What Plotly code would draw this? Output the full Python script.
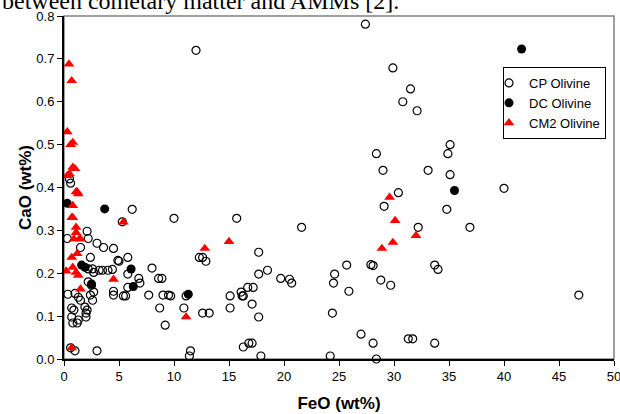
import plotly.graph_objects as go

# ---- data (FeO wt%, CaO wt%) ----
cp_feo = [27.4, 12.0, 29.9, 31.5, 30.8, 32.1, 35.1, 34.9, 28.4, 29.0, 33.1, 35.1, 40.0, 30.4, 29.1, 34.8, 32.2, 36.9,
          25.7, 27.9, 28.1, 33.7, 34.0, 24.6, 24.5, 25.9, 28.8, 29.7, 24.4, 27.0, 28.1, 31.3, 31.7, 33.7, 46.8, 28.4,
          10.0, 15.7, 21.6, 12.3, 12.6, 12.9, 17.7, 18.5, 17.7, 19.7, 20.5, 20.7, 9.7, 11.1, 15.1, 16.1, 16.7, 17.2,
          16.3, 16.2, 17.1, 10.9, 12.6, 13.2, 15.1, 17.7, 11.5, 11.4, 16.3, 16.8, 17.1, 17.9, 24.2,
          6.2, 5.3, 4.5, 5.0, 5.8, 4.4, 5.8, 6.8, 6.9, 8.0, 8.6, 8.9, 5.8, 4.5, 4.5, 5.4, 5.6, 7.7, 9.0, 9.5, 8.7, 9.2,
          3.2, 3.5, 4.0, 4.9,
          0.5, 0.6, 2.1, 0.3, 2.2, 1.5, 3.0, 3.6, 2.4, 2.2, 2.6, 2.7, 2.2, 2.5, 2.7, 2.4, 2.6, 0.35, 1.0, 1.3, 1.5,
          0.7, 0.9, 1.9, 2.1, 2.0, 2.0, 0.7, 1.3, 1.2, 0.8, 1.0, 0.6, 3.0]
cp_cao = [0.781, 0.72, 0.679, 0.630, 0.600, 0.579, 0.500, 0.479, 0.479, 0.44, 0.44, 0.430, 0.398, 0.388, 0.356, 0.349, 0.307, 0.307,
          0.219, 0.22, 0.218, 0.219, 0.209, 0.198, 0.177, 0.158, 0.184, 0.172, 0.107, 0.058, 0.037, 0.047, 0.047, 0.037, 0.149, 0.0,
          0.328, 0.328, 0.307, 0.237, 0.237, 0.228, 0.249, 0.207, 0.198, 0.188, 0.186, 0.177, 0.147, 0.147, 0.147, 0.156, 0.167, 0.167,
          0.147, 0.147, 0.128, 0.119, 0.107, 0.107, 0.119, 0.098, 0.019, 0.007, 0.028, 0.037, 0.037, 0.007, 0.007,
          0.349, 0.32, 0.258, 0.228, 0.237, 0.209, 0.198, 0.188, 0.177, 0.212, 0.188, 0.188, 0.167, 0.158, 0.149, 0.147, 0.147, 0.149, 0.149, 0.149, 0.119, 0.079,
          0.207, 0.207, 0.207, 0.23,
          0.42, 0.41, 0.298, 0.281, 0.281, 0.26, 0.27, 0.26, 0.237, 0.21, 0.21, 0.202, 0.18, 0.172, 0.156, 0.149, 0.137, 0.151, 0.153, 0.144, 0.137,
          0.119, 0.114, 0.121, 0.114, 0.107, 0.098, 0.098, 0.091, 0.084, 0.084, 0.019, 0.026, 0.019]

dc_feo = [41.6, 35.5, 0.3, 3.7, 1.6, 1.9, 2.5, 6.1, 6.3, 11.3]
dc_cao = [0.723, 0.393, 0.363, 0.35, 0.219, 0.214, 0.175, 0.21, 0.169, 0.151]

cm2_feo = [0.45, 0.7, 0.3, 0.8, 0.6, 0.8, 1.0, 0.5, 0.3, 1.2, 1.1, 1.3, 0.8, 0.7, 0.8, 1.1, 1.1, 0.9, 1.4, 1.5,
           0.7, 1.2, 0.2, 0.8, 1.1, 1.3, 1.5, 0.7, 4.5, 5.4, 11.1, 12.8, 15.0, 29.6, 30.1, 29.9, 28.9, 32.0]
cm2_cao = [0.688, 0.649, 0.53, 0.505, 0.5, 0.447, 0.444, 0.432, 0.428, 0.39, 0.39, 0.385, 0.358, 0.33, 0.33, 0.307, 0.295, 0.28, 0.28, 0.28,
           0.237, 0.246, 0.205, 0.214, 0.202, 0.195, 0.163, 0.026, 0.186, 0.319, 0.098, 0.258, 0.274, 0.377, 0.323, 0.272, 0.258, 0.288]

x_ticks = [0, 5, 10, 15, 20, 25, 30, 35, 40, 45, 50]
y_ticks = [0.0, 0.1, 0.2, 0.3, 0.4, 0.5, 0.6, 0.7, 0.8]

SANS = "Liberation Sans, Arial, sans-serif"

fig = go.Figure()
fig.add_trace(go.Scatter(x=cp_feo, y=cp_cao, mode="markers", name="CP Olivine", cliponaxis=False,
                         marker=dict(symbol="circle-open", size=8, color="black", line=dict(width=1.2, color="black"))))
fig.add_trace(go.Scatter(x=dc_feo, y=dc_cao, mode="markers", name="DC Olivine", cliponaxis=False,
                         marker=dict(symbol="circle", size=9, color="black")))
fig.add_trace(go.Scatter(x=cm2_feo, y=cm2_cao, mode="markers", name="CM2 Olivine", cliponaxis=False,
                         marker=dict(symbol="triangle-up", size=9.5, color="#ff0000", line=dict(width=0))))

# plot-area frame (grey top/right), below the black axis lines
fig.add_shape(type="rect", xref="paper", yref="paper", x0=0, y0=0, x1=1, y1=1,
              line=dict(color="#808080", width=1.5), layer="below")

fig.add_annotation(text="between cometary matter and AMMs [2].", xref="paper", yref="paper",
                   x=-64 / 550, y=1.0, xanchor="left", yanchor="bottom", showarrow=False,
                   font=dict(family="Liberation Serif, Times New Roman, serif", size=24, color="black"))

fig.update_layout(
    width=620, height=414,
    margin=dict(l=64, r=6, t=16, b=55, autoexpand=False),
    paper_bgcolor="white", plot_bgcolor="white",
    font=dict(family=SANS, size=13, color="black"),
    showlegend=True,
    legend=dict(x=(606 - 64) / 550, y=(359 - 67) / 343, xanchor="right", yanchor="top",
                bordercolor="black", borderwidth=1, bgcolor="white",
                font=dict(family=SANS, size=13, color="black"),
                itemwidth=30, indentation=-15, tracegroupgap=0),
    xaxis=dict(range=[0, 50], tickvals=x_ticks, ticks="outside", ticklen=5, tickwidth=1, tickcolor="black",
               showline=True, linecolor="black", linewidth=1.5, showgrid=False, zeroline=False,
               automargin=False, ticklabeloverflow="allow",
               tickfont=dict(family=SANS, size=13),
               title=dict(text="<b>FeO (wt%)</b>", font=dict(family=SANS, size=17), standoff=14)),
    yaxis=dict(range=[0, 0.8], tickvals=y_ticks, tickformat=".1f", ticks="outside", ticklen=5, tickwidth=1,
               tickcolor="black", showline=True, linecolor="black", linewidth=2, showgrid=False, zeroline=False,
               automargin=False, ticklabeloverflow="allow",
               tickfont=dict(family=SANS, size=13),
               title=dict(text="<b>CaO (wt%)</b>", font=dict(family=SANS, size=17), standoff=0)),
)

fig.write_html("out.html", config={"displayModeBar": False},
               post_script="document.body.style.margin='0';document.body.style.overflow='hidden';")
